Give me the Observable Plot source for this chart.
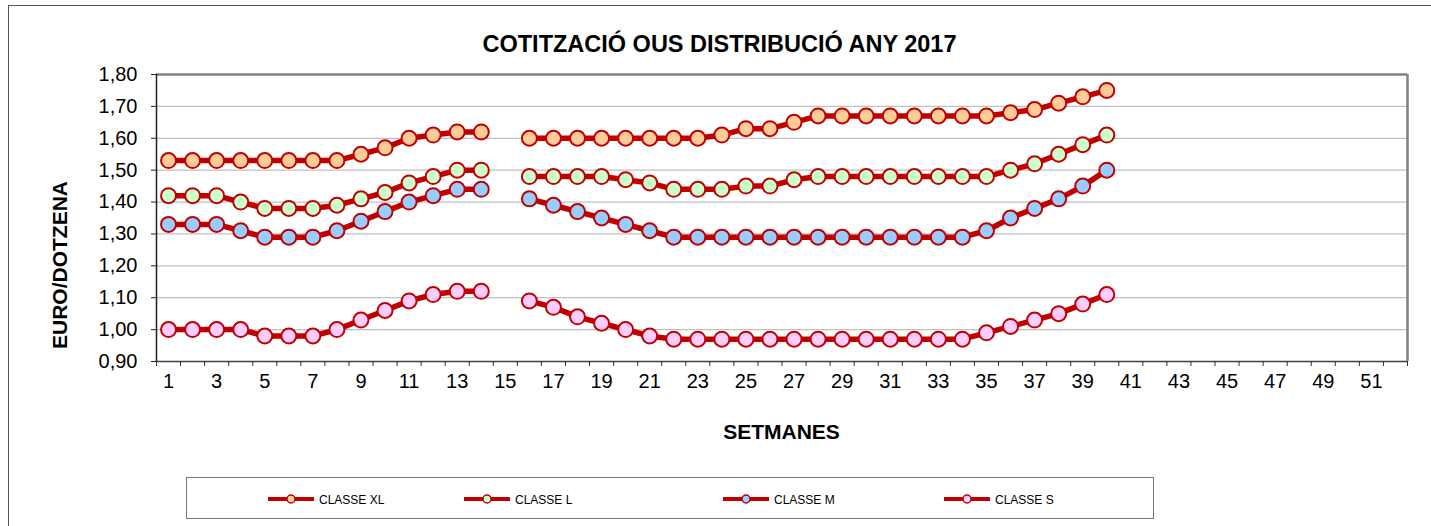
<!DOCTYPE html>
<html>
<head>
<meta charset="utf-8">
<script src="https://cdn.jsdelivr.net/npm/d3@7"></script>
<script src="https://cdn.jsdelivr.net/npm/@observablehq/plot@0.6"></script>
<style>
  body { margin: 0; background: #fff; font-family: Arial, "Liberation Sans", sans-serif; }
  #wrap { position: relative; width: 1431px; height: 526px; overflow: hidden; background: #fff; }
  #frame { position: absolute; left: 8px; top: 5px; width: 1500px; height: 600px; border-left: 1px solid #555; border-top: 1px solid #555; }
  #title { position: absolute; left: 8px; width: 1423px; top: 32px; text-align: center; font-weight: bold; font-size: 23.5px; line-height: 24px; color: #000; }
  #chart { position: absolute; left: 0; top: 60px; }
  #ylab { position: absolute; left: 60px; top: 265px; transform: translate(-50%, -50%) rotate(-90deg); font-weight: bold; font-size: 21px; white-space: nowrap; }
  #xlab { position: absolute; left: 156px; width: 1251px; top: 421px; text-align: center; font-weight: bold; font-size: 21px; line-height: 21px; }
  #legend { position: absolute; left: 186px; top: 477px; width: 968px; height: 42px; border: 1px solid #777; box-sizing: border-box; }
  #legend svg { position: absolute; left: 0; top: 0; }
</style>
</head>
<body>
<div id="wrap">
  <div id="frame"></div>
  <div id="title">COTITZACIÓ OUS DISTRIBUCIÓ ANY 2017</div>
  <div id="chart"></div>
  <div id="ylab">EURO/DOTZENA</div>
  <div id="xlab">SETMANES</div>
  <div id="legend"></div>
</div>
<script>
// ---- data ----
const weeks = [1,2,3,4,5,6,7,8,9,10,11,12,13,14,15,16,17,18,19,20,21,22,23,24,25,26,27,28,29,30,31,32,33,34,35,36,37,38,39,40];
const seriesNames = ["CLASSE XL", "CLASSE L", "CLASSE M", "CLASSE S"];
const seriesFills = ["#ffcc99", "#ccffcc", "#99ccff", "#ffccff"];
const classeXL = [1.53,1.53,1.53,1.53,1.53,1.53,1.53,1.53,1.55,1.57,1.60,1.61,1.62,1.62,null,1.60,1.60,1.60,1.60,1.60,1.60,1.60,1.60,1.61,1.63,1.63,1.65,1.67,1.67,1.67,1.67,1.67,1.67,1.67,1.67,1.68,1.69,1.71,1.73,1.75];
const classeL  = [1.42,1.42,1.42,1.40,1.38,1.38,1.38,1.39,1.41,1.43,1.46,1.48,1.50,1.50,null,1.48,1.48,1.48,1.48,1.47,1.46,1.44,1.44,1.44,1.45,1.45,1.47,1.48,1.48,1.48,1.48,1.48,1.48,1.48,1.48,1.50,1.52,1.55,1.58,1.61];
const classeM  = [1.33,1.33,1.33,1.31,1.29,1.29,1.29,1.31,1.34,1.37,1.40,1.42,1.44,1.44,null,1.41,1.39,1.37,1.35,1.33,1.31,1.29,1.29,1.29,1.29,1.29,1.29,1.29,1.29,1.29,1.29,1.29,1.29,1.29,1.31,1.35,1.38,1.41,1.45,1.50];
const classeS  = [1.00,1.00,1.00,1.00,0.98,0.98,0.98,1.00,1.03,1.06,1.09,1.11,1.12,1.12,null,1.09,1.07,1.04,1.02,1.00,0.98,0.97,0.97,0.97,0.97,0.97,0.97,0.97,0.97,0.97,0.97,0.97,0.97,0.97,0.99,1.01,1.03,1.05,1.08,1.11];
const yTicks = [0.9,1.0,1.1,1.2,1.3,1.4,1.5,1.6,1.7,1.8];
const xTickLabels = [1,3,5,7,9,11,13,15,17,19,21,23,25,27,29,31,33,35,37,39,41,43,45,47,49,51];
const xWeekCount = 52;

// ---- build table ----
const allSeries = [classeXL, classeL, classeM, classeS];
const rows = [];
allSeries.forEach((vals, i) => {
  vals.forEach((v, j) => rows.push({ series: seriesNames[i], week: weeks[j], value: v }));
});
const boundaries = d3.range(0, xWeekCount + 1).map(k => k + 0.5);
const fmt = v => d3.format(".2f")(v).replace(".", ",");

const chart = Plot.plot({
  width: 1431,
  height: 340,
  marginLeft: 156,
  marginRight: 24,
  marginTop: 14,
  marginBottom: 39,
  style: { fontFamily: "Arial, 'Liberation Sans', sans-serif", fontSize: "20px", color: "#000", background: "transparent" },
  x: { domain: [0.5, xWeekCount + 0.5], label: null },
  y: { domain: [0.9, 1.8], label: null },
  color: { domain: seriesNames, range: seriesFills },
  marks: [
    Plot.ruleY(yTicks.filter(t => t > 0.95 && t < 1.75), { stroke: "#c0c0c0", strokeWidth: 1.2 }),
    Plot.ruleY([1.8], { stroke: "#808080", strokeWidth: 2.5 }),
    Plot.ruleX([xWeekCount + 0.5], { stroke: "#808080", strokeWidth: 2.5 }),
    Plot.ruleY([0.9], { stroke: "#444", strokeWidth: 1.5 }),
    Plot.ruleX([0.5], { stroke: "#222", strokeWidth: 1.5 }),
    Plot.axisY({ ticks: yTicks, tickFormat: fmt, tickSize: 5, tickPadding: 14, label: null, stroke: "#222" }),
    Plot.axisX({ ticks: xTickLabels, tickSize: 0, tickPadding: 12, label: null, tickFormat: d => String(d) }),
    Plot.axisX({ ticks: boundaries, tickSize: 5, tickFormat: () => "", label: null, stroke: "#333" }),
    ...seriesNames.map(name => Plot.line(rows.filter(r => r.series === name), {
      x: "week", y: "value", stroke: "#c00000", strokeWidth: 5.5, strokeLinejoin: "round"
    })),
    ...seriesNames.map(name => Plot.dot(rows.filter(r => r.series === name && r.value != null), {
      x: "week", y: "value", fill: "series", stroke: "#c00000", strokeWidth: 2, r: 7.5
    }))
  ]
});
document.getElementById("chart").appendChild(chart);

// ---- legend ----
const legendX = [81, 277, 536, 757];
const ns = "http://www.w3.org/2000/svg";
const lsvg = document.createElementNS(ns, "svg");
lsvg.setAttribute("width", 968);
lsvg.setAttribute("height", 42);
seriesNames.forEach((name, i) => {
  const x0 = legendX[i];
  const line = document.createElementNS(ns, "line");
  line.setAttribute("x1", x0); line.setAttribute("x2", x0 + 46);
  line.setAttribute("y1", 21); line.setAttribute("y2", 21);
  line.setAttribute("stroke", "#c00000"); line.setAttribute("stroke-width", 4);
  lsvg.appendChild(line);
  const c = document.createElementNS(ns, "circle");
  c.setAttribute("cx", x0 + 23); c.setAttribute("cy", 21); c.setAttribute("r", 4);
  c.setAttribute("fill", seriesFills[i]); c.setAttribute("stroke", "#c00000"); c.setAttribute("stroke-width", 1.5);
  lsvg.appendChild(c);
  const t = document.createElementNS(ns, "text");
  t.setAttribute("x", x0 + 51); t.setAttribute("y", 25.5);
  t.setAttribute("font-size", 12); t.setAttribute("font-family", "Arial, 'Liberation Sans', sans-serif");
  t.textContent = name;
  lsvg.appendChild(t);
});
document.getElementById("legend").appendChild(lsvg);
</script>
</body>
</html>
